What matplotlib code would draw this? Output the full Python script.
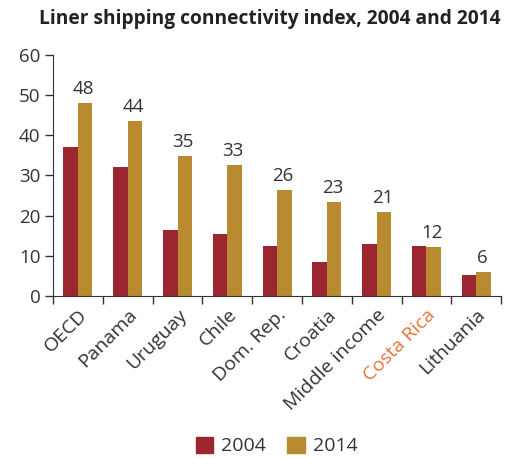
import matplotlib
matplotlib.use("Agg")
import matplotlib.pyplot as plt
import numpy as np
from matplotlib.patches import Patch

categories = ["OECD", "Panama", "Uruguay", "Chile", "Dom. Rep.", "Croatia",
              "Middle income", "Costa Rica", "Lithuania"]
v2004 = [37.1, 32.1, 16.4, 15.4, 12.4, 8.5, 12.9, 12.4, 5.2]
v2014 = [48.0, 43.6, 34.9, 32.6, 26.4, 23.4, 20.9, 12.2, 6.0]
labels2014 = ["48", "44", "35", "33", "26", "23", "21", "12", "6"]
yticks = [0, 10, 20, 30, 40, 50, 60]

red = "#9B2630"
gold = "#B98B30"
txt = "#333333"
highlight = "#E8733A"

plt.rcParams['font.family'] = ['Open Sans', 'DejaVu Sans']

fig = plt.figure(figsize=(5.15, 4.58), dpi=100)
ax = fig.add_axes([0.103, 0.354, 0.870, 0.526])

x = np.arange(len(categories))
w = 0.29
ax.bar(x - w/2, v2004, width=w, color=red, label="2004")
ax.bar(x + w/2, v2014, width=w, color=gold, label="2014")
for xi, v, lab in zip(x, v2014, labels2014):
    ax.text(xi + w/2 - 0.03, v + 1.2, lab, ha="center", va="bottom",
            fontsize=13.5, color=txt)

ax.set_xlim(-0.5, len(categories) - 0.5)
ax.set_ylim(0, 60)
ax.set_yticks(yticks)
ax.set_yticklabels([str(t) for t in yticks], fontsize=13.5, color=txt)
ax.set_xticks(np.arange(len(categories) + 1) - 0.5)
ax.set_xticklabels([])
ax.set_xticks(x, minor=True)
ax.set_xticklabels(categories, minor=True, rotation=45, ha="right",
                   rotation_mode="anchor", fontsize=14, color=txt)
for lab in ax.get_xticklabels(minor=True):
    if lab.get_text() == "Costa Rica":
        lab.set_color(highlight)
ax.tick_params(axis="x", which="minor", length=0, pad=7)
ax.tick_params(axis="x", which="major", length=6, color=txt, width=1)
ax.tick_params(axis="y", length=6, color=txt, width=1, pad=3)
for s in ["top", "right"]:
    ax.spines[s].set_visible(False)
for s in ["left", "bottom"]:
    ax.spines[s].set_color(txt)

fig.text(0.523, 0.958, "Liner shipping connectivity index, 2004 and 2014",
         ha="center", va="center", fontsize=13.8, fontweight="bold", color="#222222")

handles = [Patch(color=red, label="2004"), Patch(color=gold, label="2014")]
fig.legend(handles=handles, loc="center", bbox_to_anchor=(0.537, 0.026), ncol=2,
           frameon=False, fontsize=14, handlelength=0.9, handleheight=0.9,
           handletextpad=0.4, columnspacing=1.1, labelcolor=txt)

fig.savefig("out.png", dpi=100)
